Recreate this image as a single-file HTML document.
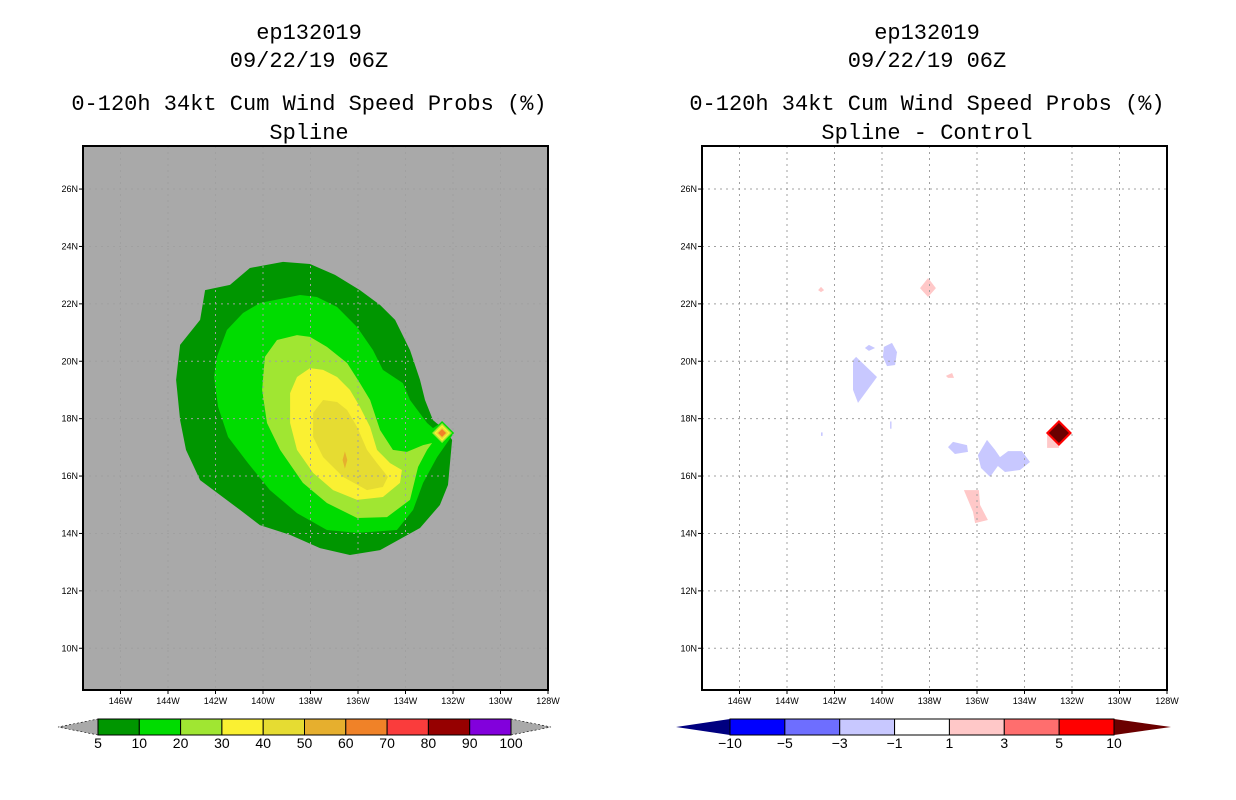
<!DOCTYPE html>
<html><head><meta charset="utf-8"><style>
html,body{margin:0;padding:0;background:#fff;}
svg{display:block;}
.t{font-family:"Liberation Mono",monospace;font-size:22px;fill:#000;}
.tk{font-family:"Liberation Sans",sans-serif;font-size:9px;fill:#000;}
.cb{font-family:"Liberation Sans",sans-serif;font-size:14px;fill:#000;}
</style></head><body>
<svg id="root" width="1236" height="800" xmlns="http://www.w3.org/2000/svg">
<g id="g1"></g>
<g id="g2"></g>
</svg>
<script>
// axis ticks
const lonTicks = [146,144,142,140,138,136,134,132,130,128];
const latTicks = [26,24,22,20,18,16,14,12,10];
// left panel contour polygons [lonW, lat]
const p5 = [[142.44,22.48],[142.65,21.44],[143.49,20.57],[143.66,19.35],[143.49,17.95],[143.24,16.91],[142.65,15.86],[140.97,14.82],[140.13,14.29],[138.86,13.95],[137.6,13.49],[136.34,13.25],[135.07,13.42],[133.39,14.19],[132.55,14.99],[132.21,15.69],[132.04,17.26],[132.34,17.6],[132.84,17.95],[133.18,18.65],[133.39,19.35],[133.81,20.39],[134.44,21.44],[135.07,21.96],[135.92,22.48],[136.97,23.01],[138.02,23.39],[139.16,23.46],[140.55,23.25],[141.39,22.66]];
const p10 = [[138.44,22.31],[140.13,22.03],[140.84,21.68],[141.52,21.09],[141.94,20.15],[142.06,19.45],[141.89,18.41],[141.47,17.36],[140.63,16.45],[139.71,15.51],[138.57,14.71],[137.31,14.12],[136.04,14.02],[134.36,14.12],[133.68,14.82],[133.26,15.76],[132.67,16.66],[131.96,17.5],[132.46,17.88],[132.84,17.67],[133.09,17.85],[133.81,18.65],[134.11,19.24],[134.95,19.7],[135.37,20.39],[136.04,21.19],[136.88,21.89],[137.73,22.24]];
const p20 = [[138.57,20.91],[139.41,20.74],[139.92,20.15],[140.04,19.0],[139.83,17.85],[139.28,16.91],[138.32,15.76],[137.31,15.06],[136.04,14.54],[134.78,14.57],[133.81,15.17],[133.47,16.32],[133.09,16.91],[132.88,17.15],[133.26,17.08],[133.94,16.84],[134.53,16.91],[135.07,17.6],[135.49,18.65],[135.92,19.24],[136.46,19.94],[137.31,20.5],[138.02,20.85]];
const p30 = [[138.02,19.76],[138.57,19.45],[138.86,18.89],[138.86,17.85],[138.57,16.91],[137.89,16.11],[137.05,15.51],[136.04,15.17],[134.95,15.27],[134.23,15.76],[134.15,16.21],[134.65,16.45],[135.2,16.91],[135.49,17.71],[135.92,18.41],[136.34,19.0],[136.88,19.45],[137.47,19.7]];
const p40 = [[137.47,18.65],[137.89,18.2],[137.89,17.36],[137.47,16.66],[136.63,15.97],[135.62,15.51],[134.95,15.62],[134.74,15.97],[135.2,16.45],[135.62,16.91],[136.04,17.71],[136.46,18.3],[136.88,18.58]];
const p50 = [[136.55,16.86],[136.45,16.56],[136.55,16.26],[136.65,16.56]];
// right panel difference polygons
const negPolys = [
 [[141.09,20.15],[140.21,19.45],[141.01,18.55],[141.22,19.0],[141.22,20.04]],
 [[139.92,20.5],[139.58,20.64],[139.37,20.32],[139.45,19.87],[139.79,19.83],[139.96,20.15]],
 [[140.72,20.46],[140.55,20.57],[140.29,20.46],[140.55,20.36]],
 [[137.22,17.01],[137.01,17.19],[136.42,17.08],[136.38,16.84],[136.93,16.77]],
 [[135.96,16.73],[135.58,17.26],[135.24,16.91],[135.03,16.66],[134.69,16.87],[134.11,16.87],[133.77,16.49],[134.19,16.21],[134.82,16.14],[135.12,16.35],[135.45,15.97],[135.83,16.28]],
 [[139.66,17.9],[139.6,17.9],[139.6,17.65],[139.66,17.65]],
 [[142.57,17.52],[142.5,17.52],[142.5,17.4],[142.57,17.4]]
];
const posPolys = [
 [[138.06,22.9],[137.73,22.55],[138.06,22.24],[138.4,22.55]],
 [[142.69,22.48],[142.57,22.59],[142.44,22.48],[142.57,22.41]],
 [[137.31,19.49],[137.05,19.59],[136.97,19.42],[137.22,19.42]],
 [[136.55,15.51],[135.92,15.51],[135.87,14.99],[135.54,14.47],[136.08,14.36],[136.17,14.75]],
 [[133.05,17.5],[132.55,17.5],[132.55,16.98],[133.05,16.98]]
];
const leftSpot = [132.46,17.5];
const rightSpot = [132.55,17.5];
const leftLevels = ["5","10","20","30","40","50","60","70","80","90","100"];
const leftColors = ["#009600","#00dc00","#a0e632","#faf032","#e6dc32","#e6af2e","#f08228","#fa3c3c","#960000","#8200dc"];
const rightLevels = ["-10","-5","-3","-1","1","3","5","10"];
const rightColors = ["#0000ff","#6e6eff","#c8c8ff","#ffffff","#ffc8c8","#ff6e6e","#ff0000"];

const NS="http://www.w3.org/2000/svg";
function el(parent,tag,attrs){const e=document.createElementNS(NS,tag);for(const k in attrs)e.setAttribute(k,attrs[k]);parent.appendChild(e);return e;}
const PY0=146,PY1=690,PW=465;
function X(ox,lon){return ox+465-(lon-128)*23.75;}
function Y(lat){return 146+(27.5-lat)*28.7;}
function pts(ox,poly){return poly.map(p=>X(ox,p[0]).toFixed(1)+","+Y(p[1]).toFixed(1)).join(" ");}

function titles(g,cx,sub){
  const lines=[["ep132019",39],["09/22/19 06Z",67],["0-120h 34kt Cum Wind Speed Probs (%)",110],[sub,139]];
  lines.forEach((l,i)=>{const t=el(g,"text",{x:cx,y:l[1],"text-anchor":"middle",class:"t"});t.textContent=l[0];
    
    });
}
function axes(g,ox,bg){
  const r=el(g,"rect",{x:ox,y:PY0,width:PW,height:PY1-PY0,fill:bg});
  
  
  return r;
}
function grid(g,ox){
  lonTicks.forEach(lon=>{const x=X(ox,lon);
    if(lon>128){const l=el(g,"line",{x1:x,y1:PY0,x2:x,y2:PY1,stroke:"#a0a0a0","stroke-width":1,"stroke-dasharray":"2,4"});
    
    }
    el(g,"line",{x1:x,y1:PY1,x2:x,y2:PY1+4,stroke:"#000"});
    const t=el(g,"text",{x:x,y:PY1+14,"text-anchor":"middle",class:"tk"});t.textContent=lon+"W";
    
    });
  latTicks.forEach(lat=>{const y=Y(lat);
    const l=el(g,"line",{x1:ox,y1:y,x2:ox+PW,y2:y,stroke:"#a0a0a0","stroke-width":1,"stroke-dasharray":"2,4"});
    
    
    el(g,"line",{x1:ox-4,y1:y,x2:ox,y2:y,stroke:"#000"});
    const t=el(g,"text",{x:ox-5,y:y+3,"text-anchor":"end",class:"tk"});t.textContent=lat+"N";
    
    });
}
function frame(g,ox){
  const f=el(g,"rect",{x:ox,y:PY0,width:PW,height:PY1-PY0,fill:"none",stroke:"#000","stroke-width":2});
  
  
}
function diamond(g,ox,c,h,color,name){
  const x=X(ox,c[0]),y=Y(c[1]);
  const d=el(g,"polygon",{points:`${x},${y-h} ${x+h},${y} ${x},${y+h} ${x-h},${y}`,fill:color});
  
  
}
function colorbar(g,x0,x1,y0,levels,colors,leftTri,rightTri,triL,triR){
  const n=colors.length,w=(x1-x0)/n,h=16;
  const lt=el(g,"polygon",{points:`${x0},${y0} ${x0},${y0+h} ${x0-triL},${y0+h/2}`,fill:leftTri,stroke:leftTri=="#a9a9a9"?"#000":"none","stroke-dasharray":"2,2","stroke-width":0.6});
  
  
  const rt=el(g,"polygon",{points:`${x1},${y0} ${x1},${y0+h} ${x1+triR},${y0+h/2}`,fill:rightTri,stroke:rightTri=="#a9a9a9"?"#000":"none","stroke-dasharray":"2,2","stroke-width":0.6});
  
  
  colors.forEach((c,i)=>{const r=el(g,"rect",{x:x0+i*w,y:y0,width:w,height:h,fill:c,stroke:"#000","stroke-width":1});
    
    });
  levels.forEach((lv,i)=>{const x=x0+i*w;
    const t=el(g,"text",{x:x,y:y0+h+13,"text-anchor":"middle",class:"cb"});t.textContent=lv.replace("-","\u2212");
    
    });
}

// LEFT
const g1=document.getElementById("g1"),O1=83;
titles(g1,309,"Spline");
axes(g1,O1,"#a9a9a9");
[[p5,0],[p10,1],[p20,2],[p30,3],[p40,4],[p50,5]].forEach(([poly,i])=>{
  const p=el(g1,"polygon",{points:pts(O1,poly),fill:leftColors[i]});
  
  });
diamond(g1,O1,leftSpot,12,leftColors[1],'spot-10pct');
diamond(g1,O1,leftSpot,10,leftColors[2],'spot-20pct');
diamond(g1,O1,leftSpot,8,leftColors[3],'spot-30pct');
diamond(g1,O1,leftSpot,6,leftColors[4],'spot-40pct');
diamond(g1,O1,leftSpot,4,leftColors[6],'spot-60pct');
grid(g1,O1);frame(g1,O1);
colorbar(g1,98,511,719,leftLevels,leftColors,"#a9a9a9","#a9a9a9",40,40);

// RIGHT
const g2=document.getElementById("g2"),O2=702;
titles(g2,927,"Spline - Control");
axes(g2,O2,"#ffffff");
negPolys.forEach(poly=>{const p=el(g2,"polygon",{points:pts(O2,poly),fill:rightColors[2]});
  
  });
posPolys.forEach(poly=>{const p=el(g2,"polygon",{points:pts(O2,poly),fill:rightColors[4]});
  
  });
diamond(g2,O2,rightSpot,13,"#ff0000",'spot-diff-5');
diamond(g2,O2,rightSpot,10,"#6b0000",'spot-diff-10');
grid(g2,O2);frame(g2,O2);
colorbar(g2,730,1114,719,rightLevels,rightColors,"#000080","#6b0000",54,57);
</script>
</body></html>
